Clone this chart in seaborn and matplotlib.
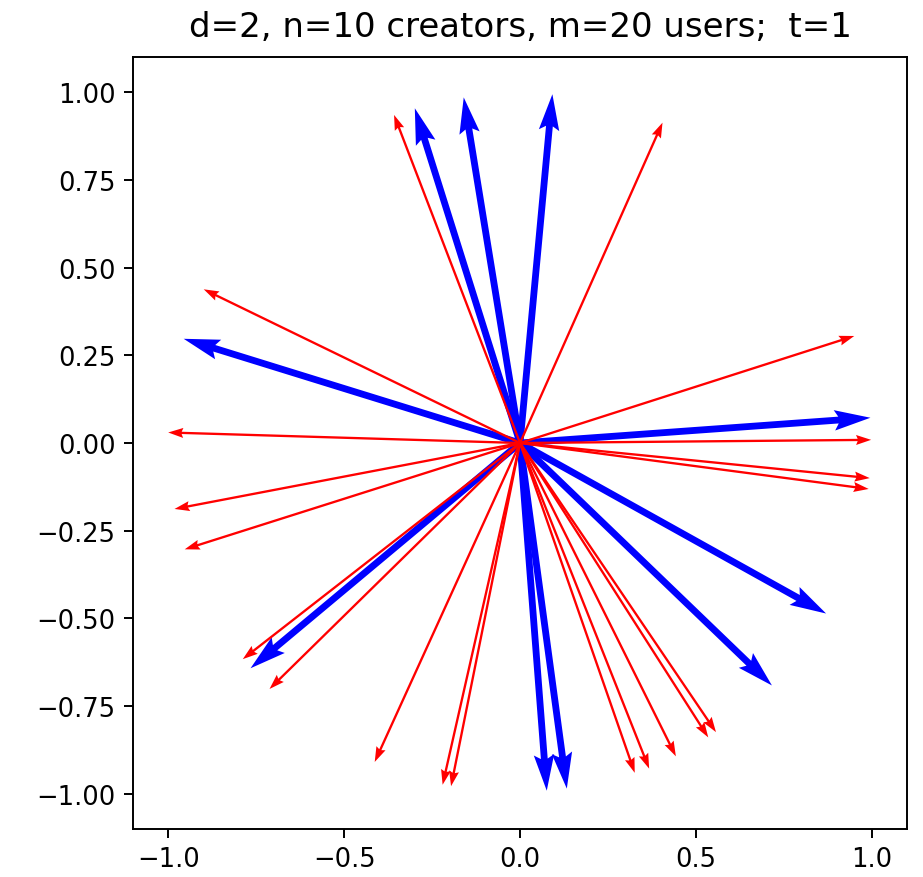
import matplotlib
matplotlib.use("Agg")
import matplotlib.pyplot as plt
import numpy as np
import pandas as pd
import seaborn as sns

# creator embeddings (d=2)
creator_x = [-0.299, -0.160, 0.092, -0.956, 0.996, 0.870, 0.716, -0.766, 0.076, 0.133]
creator_y = [0.954, 0.985, 0.994, 0.297, 0.072, -0.486, -0.691, -0.642, -0.991, -0.985]

# user embeddings (d=2)
user_x = [-0.358, 0.405, -0.899, 0.950, -1.000, 0.998, 0.994, 0.991, -0.982, -0.953,
          -0.788, -0.712, -0.413, -0.220, -0.196, 0.326, 0.367, 0.443, 0.535, 0.557]
user_y = [0.935, 0.913, 0.438, 0.305, 0.030, 0.009, -0.100, -0.131, -0.188, -0.303,
          -0.616, -0.701, -0.909, -0.974, -0.978, -0.940, -0.928, -0.893, -0.839, -0.824]

title = "d=2, n=10 creators, m=20 users;  t=1"

sns.set_style("ticks", rc={"axes.edgecolor": "black", "xtick.color": "black",
                           "ytick.color": "black", "text.color": "black",
                           "axes.labelcolor": "black"})
plt.rcParams["font.family"] = ["DejaVu Sans"]

users = pd.DataFrame({"x": user_x, "y": user_y})
creators = pd.DataFrame({"x": creator_x, "y": creator_y})

fig = plt.figure(figsize=(9.23, 8.78), dpi=100)
ax = fig.add_axes([0.1441, 0.0547, 0.8386, 0.8792])

ax.quiver(np.zeros(len(creators)), np.zeros(len(creators)), creators["x"], creators["y"],
          color="blue", angles="xy", scale_units="xy", scale=1,
          width=0.0088, headwidth=3, headlength=5.3, headaxislength=4.7, zorder=2)
ax.quiver(np.zeros(len(users)), np.zeros(len(users)), users["x"], users["y"],
          color="red", angles="xy", scale_units="xy", scale=1,
          width=0.003, headwidth=4.3, headlength=6.5, headaxislength=5.8, zorder=3)

ax.set_xlim(-1.1, 1.1)
ax.set_ylim(-1.1, 1.1)
ax.set_xticks([-1.0, -0.5, 0.0, 0.5, 1.0])
ax.set_yticks([-1.0, -0.75, -0.5, -0.25, 0.0, 0.25, 0.5, 0.75, 1.0])
ax.set_xticklabels(["\u22121.0", "\u22120.5", "0.0", "0.5", "1.0"])
ax.set_yticklabels(["\u22121.00", "\u22120.75", "\u22120.50", "\u22120.25", "0.00",
                    "0.25", "0.50", "0.75", "1.00"])
ax.tick_params(labelsize=18.5, length=6.5, width=1.4, pad=6, direction="out")
for s in ax.spines.values():
    s.set_linewidth(1.4)
    s.set_visible(True)
ax.set_title(title, fontsize=24.5, pad=15)

fig.savefig("out.png", dpi=100)
